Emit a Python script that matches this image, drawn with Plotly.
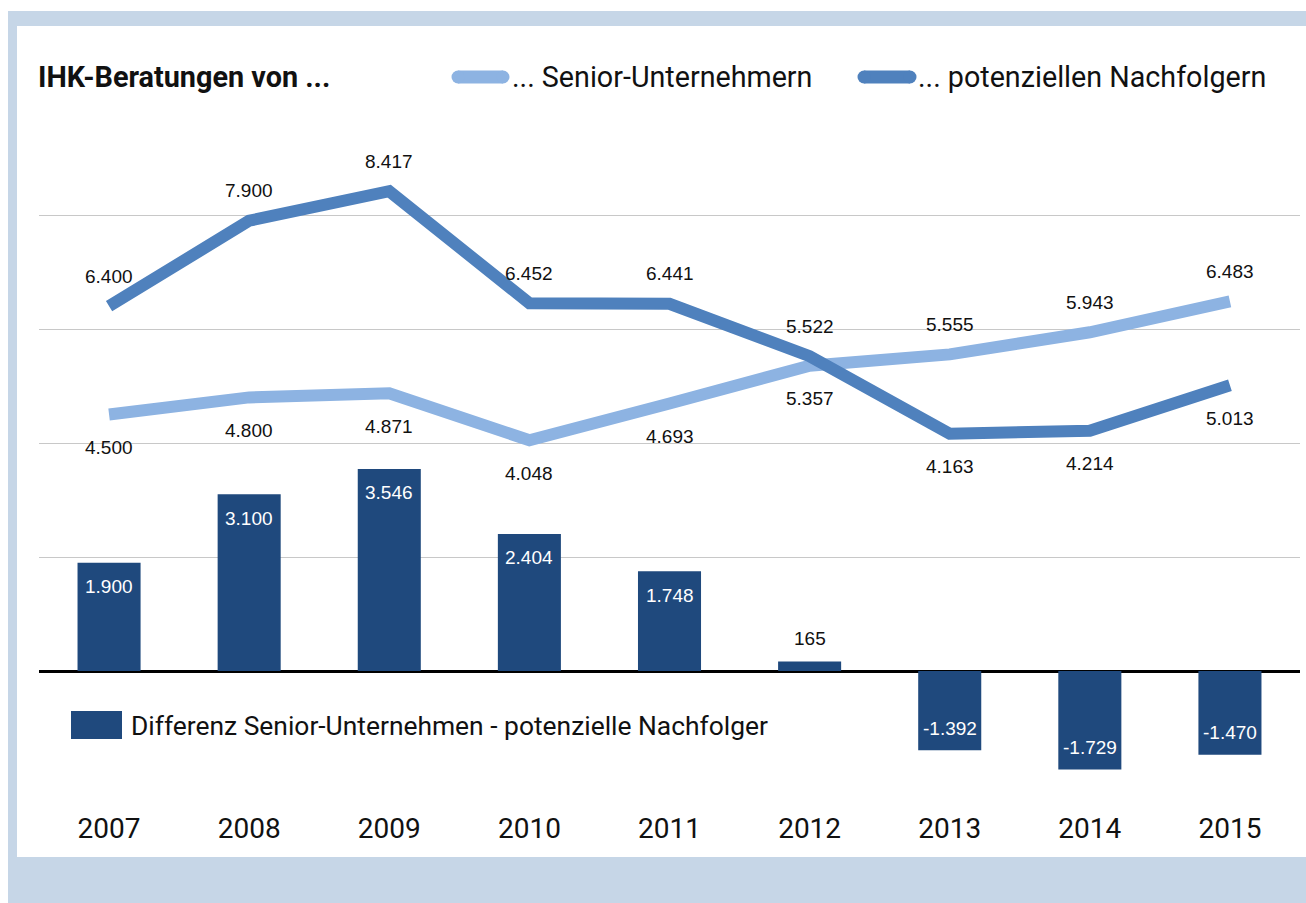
import plotly.graph_objects as go

years = ["2007", "2008", "2009", "2010", "2011", "2012", "2013", "2014", "2015"]
senior = [4500, 4800, 4871, 4048, 4693, 5357, 5555, 5943, 6483]
nachfolger = [6400, 7900, 8417, 6452, 6441, 5522, 4163, 4214, 5013]
differenz = [1900, 3100, 3546, 2404, 1748, 165, -1392, -1729, -1470]

title_text = "IHK-Beratungen von ..."
name_senior = "... Senior-Unternehmern"
name_nach = "... potenziellen Nachfolgern"
name_diff = "Differenz Senior-Unternehmen - potenzielle Nachfolger"

OFF = 0  # page body margin removed by post_script
W, H = 1306, 903
# plot area in screenshot pixels
SL, SR, ST, SB = 39, 1300, 101, 785
L, R, T, B = SL - OFF, SR - OFF, ST - OFF, SB - OFF

C_LIGHT = "#8db3e2"
C_DARK = "#4f81bd"
C_BAR = "#1f497d"
C_FRAME = "#c6d6e7"
FONT = "Roboto"
NUMFONT = "Liberation Sans"


def px(x):
    return (x - SL) / (SR - SL)


def py(y):
    return (SB - y) / (SB - ST)


def fmt(v):
    return f"{v:,}".replace(",", ".")


fig = go.Figure()

fig.add_trace(go.Bar(x=years, y=differenz, width=0.45, marker=dict(color=C_BAR, line=dict(width=0)),
                     name=name_diff, showlegend=False))
fig.add_trace(go.Scatter(x=years, y=senior, mode="lines", line=dict(color=C_LIGHT, width=12),
                         name=name_senior, showlegend=False))
fig.add_trace(go.Scatter(x=years, y=nachfolger, mode="lines", line=dict(color=C_DARK, width=12),
                         name=name_nach, showlegend=False))

ann = []
lab_font = dict(family=NUMFONT, size=19, color="#111111")
for i, (s, n) in enumerate(zip(senior, nachfolger)):
    hi, lo = (n, s) if n >= s else (s, n)
    ann.append(dict(x=i, y=hi, text=fmt(hi), showarrow=False, yshift=30, font=lab_font))
    ann.append(dict(x=i, y=lo, text=fmt(lo), showarrow=False, yshift=-33, font=lab_font))
for i, v in enumerate(differenz):
    if abs(v) < 500:
        ann.append(dict(x=i, y=v, text=fmt(v), showarrow=False, yshift=23, font=lab_font))
    elif v > 0:
        ann.append(dict(x=i, y=v, text=fmt(v), showarrow=False, yshift=-24,
                        font=dict(family=NUMFONT, size=19, color="white")))
    else:
        ann.append(dict(x=i, y=v, text=fmt(v), showarrow=False, yshift=22,
                        font=dict(family=NUMFONT, size=19, color="white")))

# title and legends
ann.append(dict(xref="paper", yref="paper", x=px(36), y=py(77), xanchor="left", yanchor="middle",
                text="<b>" + title_text + "</b>", showarrow=False,
                font=dict(family=FONT, size=28.8, color="#111111")))
ann.append(dict(xref="paper", yref="paper", x=px(510), y=py(77), xanchor="left", yanchor="middle",
                text=name_senior, showarrow=False, font=dict(family=FONT, size=28.7, color="#111111")))
ann.append(dict(xref="paper", yref="paper", x=px(916), y=py(77), xanchor="left", yanchor="middle",
                text=name_nach, showarrow=False, font=dict(family=FONT, size=28.7, color="#111111")))
ann.append(dict(xref="paper", yref="paper", x=px(129), y=py(726), xanchor="left", yanchor="middle",
                text=name_diff, showarrow=False, font=dict(family=FONT, size=26.4, color="#111111")))

frame = dict(type="rect", xref="paper", yref="paper", fillcolor=C_FRAME, line=dict(width=0), layer="below")
shapes = [
    dict(frame, x0=px(8), x1=px(1320), y0=py(26), y1=py(11)),     # top strip
    dict(frame, x0=px(8), x1=px(17), y0=py(920), y1=py(11)),      # left strip
    dict(frame, x0=px(8), x1=px(1320), y0=py(920), y1=py(857)),   # bottom band
    dict(type="line", xref="paper", yref="paper", x0=px(458), x1=px(503), y0=py(77), y1=py(77),
         line=dict(color=C_LIGHT, width=13)),
    dict(type="line", xref="paper", yref="paper", x0=px(864), x1=px(910), y0=py(77), y1=py(77),
         line=dict(color=C_DARK, width=13)),
    dict(type="rect", xref="paper", yref="paper", x0=px(71), x1=px(122), y0=py(739), y1=py(711),
         fillcolor=C_BAR, line=dict(width=0)),
]
# rounded caps for legend lines
for cx0, cx1, col in [(458, 503, C_LIGHT), (864, 910, C_DARK)]:
    for cx in (cx0, cx1):
        shapes.append(dict(type="circle", xref="paper", yref="paper", x0=px(cx - 6.5), x1=px(cx + 6.5),
                           y0=py(77 + 6.5), y1=py(77 - 6.5), fillcolor=col, line=dict(width=0)))

fig.update_layout(
    width=W, height=H,
    margin=dict(l=L, r=W - R, t=T, b=H - B),
    paper_bgcolor="white", plot_bgcolor="rgba(0,0,0,0)",
    showlegend=False,
    annotations=ann, shapes=shapes,
    xaxis=dict(type="category", range=[-0.5, len(years) - 0.5], showgrid=False, showline=False, ticks="",
               tickfont=dict(family=FONT, size=28, color="#111111"), ticklabelstandoff=24),
    yaxis=dict(range=[-2000, 10000], tickvals=[-2000, 2000, 4000, 6000, 8000], showticklabels=False,
               showgrid=True, gridcolor="#c8c8c8", gridwidth=1,
               zeroline=True, zerolinecolor="#000000", zerolinewidth=3, showline=False, ticks=""),
)

fig.write_html("out.html", config={"displayModeBar": False},
               post_script="document.body.style.margin='0';document.body.style.overflow='hidden';")
